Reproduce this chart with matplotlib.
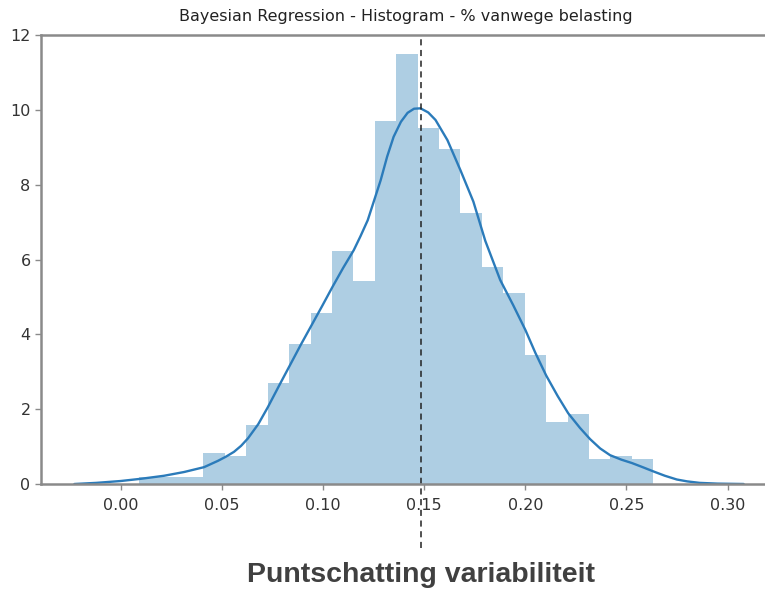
import matplotlib
matplotlib.use("Agg")
import matplotlib.pyplot as plt
import numpy as np

# Histogram (density)
bin_start = 0.0091
bin_width = 0.01059
bar_heights = [0.19, 0.19, 0.19, 0.82, 0.76, 1.58, 2.69, 3.74, 4.56, 6.24,
               5.43, 9.70, 11.50, 9.52, 8.95, 7.25, 5.80, 5.11, 3.45, 1.67,
               1.87, 0.66, 0.75, 0.66]

# KDE curve
kde_x = [-0.0229, -0.0121, 0.0, 0.0101, 0.0214, 0.0313, 0.0412, 0.0481, 0.0520,
         0.0560, 0.0595, 0.0629, 0.0680, 0.0727, 0.0785, 0.0841, 0.0890, 0.0939,
         0.0995, 0.1048, 0.1100, 0.1152, 0.1185, 0.1221, 0.1285, 0.1317, 0.1349,
         0.1385, 0.1418, 0.1450, 0.1482, 0.1520, 0.1556, 0.1615, 0.1679, 0.1743,
         0.1802, 0.1876, 0.1940, 0.2000, 0.2050, 0.2103, 0.2160, 0.2212, 0.2270,
         0.2320, 0.2370, 0.2419, 0.2475, 0.2527, 0.2580, 0.2636, 0.2690, 0.2749,
         0.2800, 0.2862, 0.2950, 0.3079]
kde_y = [0.0, 0.03, 0.08, 0.14, 0.22, 0.32, 0.45, 0.62, 0.73,
         0.86, 1.02, 1.22, 1.6, 2.05, 2.65, 3.22, 3.72, 4.2,
         4.75, 5.28, 5.78, 6.25, 6.62, 7.05, 8.12, 8.75, 9.28,
         9.68, 9.92, 10.03, 10.04, 9.93, 9.73, 9.19, 8.39, 7.55,
         6.5, 5.45, 4.78, 4.12, 3.5, 2.9, 2.35, 1.89, 1.5,
         1.2, 0.95, 0.77, 0.65, 0.56, 0.45, 0.33, 0.22, 0.12,
         0.07, 0.03, 0.01, 0.0]

point_estimate = 0.1485
title = "Bayesian Regression - Histogram - % vanwege belasting"
caption = "Puntschatting variabiliteit"
x_ticks = [0.00, 0.05, 0.10, 0.15, 0.20, 0.25, 0.30]
y_ticks = [0, 2, 4, 6, 8, 10, 12]

W, H = 765, 589
fig = plt.figure(figsize=(W / 100, H / 100), dpi=100)
ax = fig.add_axes([41 / W, (H - 484) / H, (777 - 41) / W, 449 / H])

edges = bin_start + bin_width * np.arange(len(bar_heights))
ax.bar(edges, bar_heights, width=bin_width, align="edge",
       color="#1f77b4", alpha=0.36, linewidth=0)
ax.plot(kde_x, kde_y, color="#2b7bba", lw=1.7, solid_joinstyle="round",
        solid_capstyle="round")

ax.axvline(point_estimate, ymin=-0.143, ymax=0.99, color="#222222",
           lw=1.1, ls=(0, (4, 3)), clip_on=False)

ax.set_xlim(-0.0394, 0.3244)
ax.set_ylim(0, 12)
ax.set_xticks(x_ticks)
ax.set_xticklabels([f"{v:.2f}" for v in x_ticks])
ax.set_yticks(y_ticks)

for s in ["left", "top", "bottom", "right"]:
    ax.spines[s].set_color("#8a8a8a")
    ax.spines[s].set_linewidth(1.8)
ax.tick_params(axis="both", colors="#8a8a8a", labelcolor="#333333",
               labelsize=11.5, length=4, width=1)
ax.tick_params(axis="x", pad=6)

fig.text(406 / W, 1 - 17 / H, title, ha="center", va="center",
         fontsize=11.5, color="#222222")
fig.text(421 / W, 1 - 575 / H, caption, ha="center", va="center",
         fontsize=20.5, fontweight="bold", color="#404040",
         family="Liberation Sans")

fig.savefig("out.png", dpi=100)
